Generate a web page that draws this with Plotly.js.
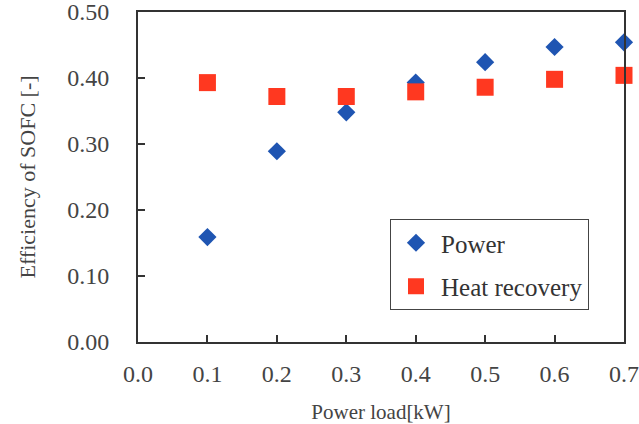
<!DOCTYPE html>
<html><head><meta charset="utf-8">
<script src="https://cdn.plot.ly/plotly-3.0.1.min.js"></script>
<style>body{margin:0;background:#fff}</style>
</head><body><div id="chart" style="width:639px;height:424px"></div>
<script>
const powerLoad = [0.1, 0.2, 0.3, 0.4, 0.5, 0.6, 0.7];
const powerEff = [0.159, 0.289, 0.348, 0.393, 0.424, 0.447, 0.454];
const heatEff = [0.393, 0.372, 0.372, 0.379, 0.386, 0.398, 0.404];
const xTicks = [0.0, 0.1, 0.2, 0.3, 0.4, 0.5, 0.6, 0.7];
const yTicks = [0.0, 0.1, 0.2, 0.3, 0.4, 0.5];

const font = {family: '"Liberation Serif", "Times New Roman", serif', color: '#333', size: 22};
const axisCommon = {
  showline: true, linecolor: '#333', linewidth: 2, mirror: true,
  ticks: 'inside', ticklen: 7, tickwidth: 2, tickcolor: '#333',
  showgrid: false, zeroline: false, tickfont: {size: 24, color: '#444'},
  ticklabeloverflow: 'allow'
};
Plotly.newPlot('chart', [
  {x: powerLoad, y: powerEff, mode: 'markers', type: 'scatter', name: 'Power', legendgroup: 'a', cliponaxis: false,
   marker: {symbol: 'diamond', size: 14, color: '#1f55b2'}},
  {x: powerLoad, y: heatEff, mode: 'markers', type: 'scatter', name: 'Heat recovery', legendgroup: 'b', cliponaxis: false,
   marker: {symbol: 'square', size: 17, color: '#ff3820'}}
], {
  width: 639, height: 424, font: font,
  paper_bgcolor: '#fff', plot_bgcolor: '#fff',
  margin: {l: 138, r: 15, t: 12, b: 82},
  xaxis: Object.assign({}, axisCommon, {range: [0, 0.7], tickvals: xTicks, ticktext: xTicks.map(v => v.toFixed(1)),
    ticklabelstandoff: 9,
    title: {text: 'Power load[kW]', font: {size: 21, color: '#444'}, standoff: 19}}),
  yaxis: Object.assign({}, axisCommon, {range: [0, 0.5], tickvals: yTicks, ticktext: yTicks.map(v => v.toFixed(2)),
    ticklabelstandoff: 22,
    title: {text: 'Efficiency of SOFC [-]', font: {size: 22, color: '#444'}, standoff: 26}}),
  showlegend: true,
  legend: {x: (390 - 138) / 486, y: (342 - 219) / 330, xanchor: 'left', yanchor: 'top', bordercolor: '#444', borderwidth: 1,
    bgcolor: '#fff', font: {size: 25, color: '#333'}, traceorder: 'grouped', tracegroupgap: 8,
    itemwidth: 40, entrywidth: 200, entrywidthmode: 'pixels'},
}, {displayModeBar: false});
</script></body></html>
